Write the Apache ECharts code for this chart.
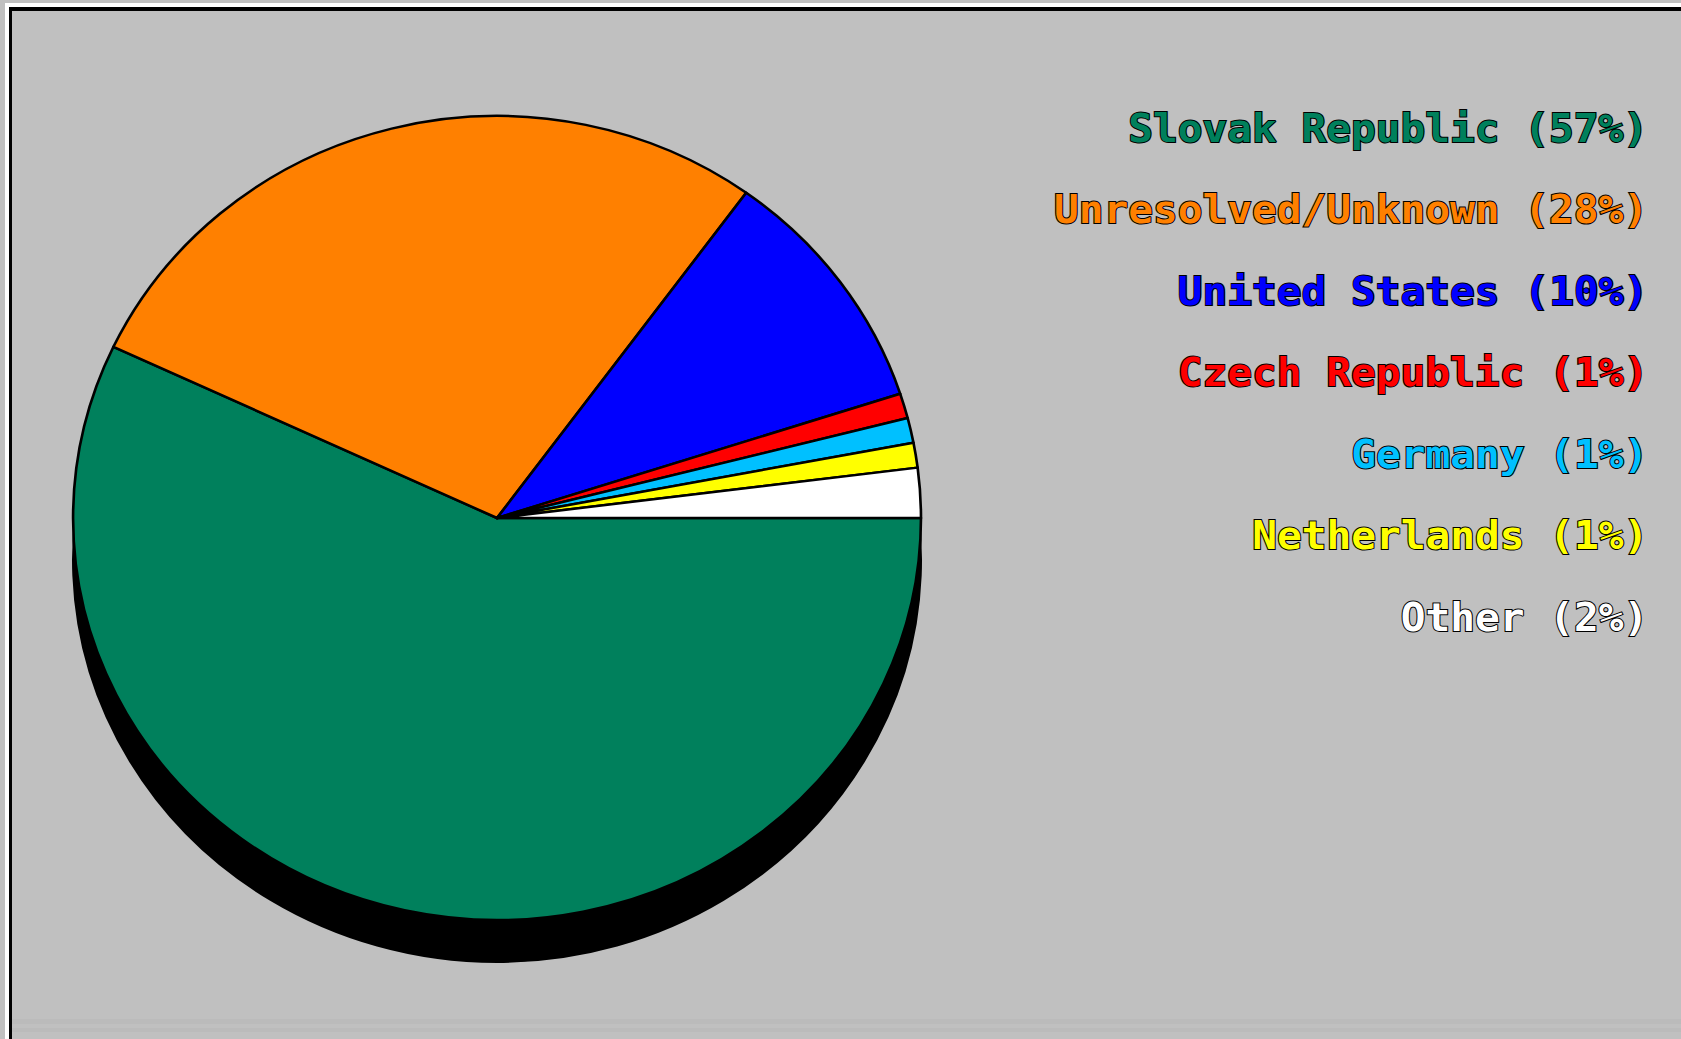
<!DOCTYPE html>
<html>
<head>
<meta charset="utf-8">
<script src="https://cdn.jsdelivr.net/npm/echarts@6/dist/echarts.min.js"></script>
<style>
  html, body { margin: 0; padding: 0; background: #c0c0c0; width: 1681px; height: 1039px; overflow: hidden; position: relative; }
  .ln { position: absolute; }
  #chart { position: absolute; left: 0; top: 0; width: 1594px; height: 1039px; transform: scaleX(1.0546); transform-origin: 0 0; }
</style>
</head>
<body>
<div class="ln" style="left:5px;top:3px;width:1676px;height:4px;background:#ffffff"></div>
<div class="ln" style="left:5px;top:3px;width:4px;height:1036px;background:#ffffff"></div>
<div class="ln" style="left:9px;top:7px;width:1672px;height:4px;background:#000000"></div>
<div class="ln" style="left:9px;top:7px;width:3px;height:1032px;background:#000000"></div>
<div class="ln" style="left:12px;top:1019px;width:1669px;height:5px;background:#bbbbbb"></div>
<div class="ln" style="left:12px;top:1028px;width:1669px;height:4px;background:#bbbbbb"></div>
<div id="chart"></div>
<script>
// ---- data ----
const categories = ['Slovak Republic', 'Unresolved/Unknown', 'United States', 'Czech Republic', 'Germany', 'Netherlands', 'Other'];
const values = [57, 28, 10, 1, 1, 1, 2];
const colors = ['#00805c', '#ff8000', '#0000ff', '#ff0000', '#00c0ff', '#ffff00', '#ffffff'];

const total = values.reduce((a, b) => a + b, 0);
const pct = {};
categories.forEach((c, i) => { pct[c] = Math.round(values[i] / total * 100); });

const rowTops = [108, 189, 271, 352, 434, 515, 597];

const legends = categories.map((c, i) => ({
  data: [{ name: c, textStyle: { color: colors[i] } }],
  right: 30,
  top: rowTops[i],
  padding: 0,
  icon: 'none',
  itemWidth: 0,
  itemHeight: 40,
  selectedMode: false,
  formatter: name => name + ' (' + pct[name] + '%)',
  textStyle: {
    fontFamily: 'DejaVu Sans Mono',
    fontWeight: 'bold',
    fontSize: 39,
    textBorderColor: '#000000',
    textBorderWidth: 2
  }
}));

const chart = echarts.init(document.getElementById('chart'), null, { renderer: 'svg' });
chart.setOption({
  animation: false,
  backgroundColor: 'transparent',
  tooltip: { show: false },
  legend: legends,
  series: [
    {
      type: 'pie',
      name: 'shadow',
      silent: true,
      z: 1,
      center: [471.3, 560],
      radius: 402,
      label: { show: false },
      labelLine: { show: false },
      itemStyle: { color: '#000000', borderColor: '#000000', borderWidth: 2 },
      emphasis: { disabled: true },
      data: [{ name: '', value: total }]
    },
    {
      type: 'pie',
      name: 'countries',
      z: 2,
      center: [471.3, 518],
      radius: 402,
      startAngle: 0,
      clockwise: true,
      minAngle: 0,
      avoidLabelOverlap: false,
      label: { show: false },
      labelLine: { show: false },
      emphasis: { disabled: true },
      itemStyle: { borderColor: '#000000', borderWidth: 2.5 },
      data: categories.map((c, i) => ({ name: c, value: values[i], itemStyle: { color: colors[i] } }))
    }
  ]
});
</script>
</body>
</html>
